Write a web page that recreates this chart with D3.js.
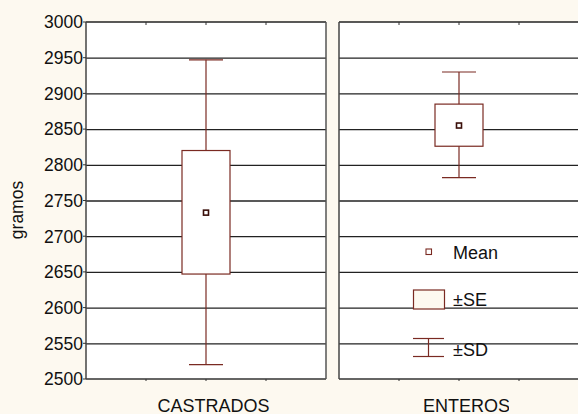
<!DOCTYPE html>
<html>
<head>
<meta charset="utf-8">
<script src="https://cdn.jsdelivr.net/npm/d3@7"></script>
<style>
body{margin:0;background:#fdf9f0}
svg{display:block}
text{font-family:"Liberation Sans",Arial,sans-serif;fill:#111}
</style>
</head>
<body>
<svg width="578" height="414"></svg>
<script>
// data
const groups=["CASTRADOS","ENTEROS"]
const means=[2733,2855]
const seLo=[2647,2826]
const seHi=[2820,2885]
const sdLo=[2520,2782]
const sdHi=[2947,2930]
const yTicks=[2500,2550,2600,2650,2700,2750,2800,2850,2900,2950,3000]

const svg=d3.select("svg")
const brown="#7a2a22"
const yTop=22,yBot=379
const y=d3.scaleLinear().domain([2500,3000]).range([yBot,yTop])
const panels=[[86,326],[339,579]]

svg.append("rect").attr("width",578).attr("height",414).attr("fill","#fdf9f0")
svg.append("clipPath").attr("id","lab").append("rect").attr("x",0).attr("y",0).attr("width",509).attr("height",414)

panels.forEach((p,i)=>{
let g=svg.append("g")
let x=d3.scaleLinear().domain([0,4]).range(p)
g.append("rect").attr("x",p[0]).attr("y",yTop).attr("width",p[1]-p[0]).attr("height",yBot-yTop).attr("fill","#fff")
// grid
g.selectAll(".gl").data(yTicks.slice(1,-1)).enter().append("line")
.attr("x1",p[0]).attr("x2",p[1]).attr("y1",d=>y(d)+0.5).attr("y2",d=>y(d)+0.5)
.attr("stroke","#222").attr("stroke-width",1.3)
// frame
g.append("line").attr("x1",p[0]).attr("x2",p[1]).attr("y1",yTop).attr("y2",yTop).attr("stroke","#222").attr("stroke-width",1.5)
g.append("line").attr("x1",p[0]).attr("x2",p[1]).attr("y1",yBot).attr("y2",yBot).attr("stroke","#333").attr("stroke-width",1.5)
g.append("line").attr("x1",p[0]).attr("x2",p[0]).attr("y1",yTop).attr("y2",yBot).attr("stroke","#444").attr("stroke-width",1.5)
if(i==0)g.append("line").attr("x1",p[1]).attr("x2",p[1]).attr("y1",yTop).attr("y2",yBot).attr("stroke","#555").attr("stroke-width",1.5)
// small ticks top & bottom
;[1,2,3].forEach(t=>{
g.append("line").attr("x1",x(t)).attr("x2",x(t)).attr("y1",yTop).attr("y2",yTop+3).attr("stroke","#333")
g.append("line").attr("x1",x(t)).attr("x2",x(t)).attr("y1",yBot).attr("y2",yBot+2).attr("stroke","#333")
})
let cx=x(2)
// whisker
g.append("line").attr("x1",cx).attr("x2",cx).attr("y1",y(sdHi[i])).attr("y2",y(sdLo[i])).attr("stroke",brown).attr("stroke-width",1.2)
;[sdHi[i],sdLo[i]].forEach(v=>{
g.append("line").attr("x1",cx-17).attr("x2",cx+17).attr("y1",y(v)).attr("y2",y(v)).attr("stroke",brown).attr("stroke-width",1.2)
})
g.append("rect").attr("x",cx-24).attr("width",48).attr("y",y(seHi[i])).attr("height",y(seLo[i])-y(seHi[i]))
.attr("fill","#fff").attr("stroke",brown).attr("stroke-width",1.2)
g.append("rect").attr("x",cx-2.5).attr("y",y(means[i])-2.5).attr("width",5).attr("height",5)
.attr("fill","#fff").attr("stroke","#3a0f0a").attr("stroke-width",1.6)
svg.append("text").attr("x",cx+7.5).attr("y",411.5).attr("text-anchor","middle").attr("font-size",18)
.attr("clip-path","url(#lab)").text(groups[i])
})

// y axis
let ya=svg.append("g")
yTicks.forEach(t=>{
ya.append("line").attr("x1",83).attr("x2",86).attr("y1",y(t)).attr("y2",y(t)).attr("stroke","#333")
ya.append("text").attr("x",83).attr("y",y(t)+6.3).attr("text-anchor","end").attr("font-size",17.5).text(t)
})
svg.append("text").attr("transform","translate(23,210) rotate(-90)").attr("text-anchor","middle").attr("font-size",17.5).text("gramos")

// legend
let lg=svg.append("g")
lg.append("rect").attr("x",426).attr("y",249).attr("width",5.5).attr("height",5.5).attr("fill","#fff").attr("stroke",brown).attr("stroke-width",1.1)
lg.append("text").attr("x",453).attr("y",258.5).attr("font-size",18).text("Mean")
lg.append("rect").attr("x",413.5).attr("y",290).attr("width",31).attr("height",19).attr("fill","#fdf9f0").attr("stroke",brown).attr("stroke-width",1.2)
lg.append("text").attr("x",453).attr("y",305.5).attr("font-size",18).text("±SE")
lg.append("line").attr("x1",413).attr("x2",444).attr("y1",338.5).attr("y2",338.5).attr("stroke",brown).attr("stroke-width",1.2)
lg.append("line").attr("x1",413).attr("x2",444).attr("y1",356.5).attr("y2",356.5).attr("stroke",brown).attr("stroke-width",1.2)
lg.append("line").attr("x1",428.5).attr("x2",428.5).attr("y1",338.5).attr("y2",356.5).attr("stroke",brown).attr("stroke-width",1.2)
lg.append("text").attr("x",453).attr("y",355.5).attr("font-size",18).text("±SD")
</script>
</body>
</html>
